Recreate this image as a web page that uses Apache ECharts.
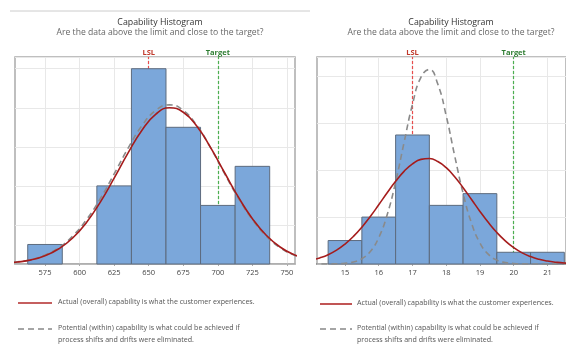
<!DOCTYPE html>
<html><head><meta charset="utf-8">
<script src="https://cdn.jsdelivr.net/npm/echarts@6/dist/echarts.min.js"></script>
<style>html,body{margin:0;padding:0;background:#fff}#c{width:566px;height:346px}</style>
</head><body><div id="c"></div>
<script>
// ---- Left panel data ----
var leftBinStart = [562.5, 612.5, 637.5, 662.5, 687.5, 712.5];
var leftBinEnd   = [587.5, 637.5, 662.5, 687.5, 712.5, 737.5];
var leftCounts   = [1, 4, 10, 7, 3, 5];
var leftTicks    = [575, 600, 625, 650, 675, 700, 725, 750];
var leftCurveX   = [545,555,565,575,585,595,605,615,625,635,645,655,665,675,685,695,705,715,725,735,745,755,765];
var leftOverall  = [0.04,0.10,0.21,0.42,0.78,1.33,2.13,3.17,4.40,5.68,6.84,7.66,8.00,7.77,7.04,5.93,4.66,3.41,2.32,1.47,0.87,0.48,0.25];
var leftWithin   = [0.05,0.11,0.23,0.46,0.84,1.43,2.27,3.35,4.61,5.92,7.07,7.86,8.15,7.86,7.07,5.92,4.61,3.35,2.27,1.43,0.84,0.46,0.23];
var leftLSL = 650, leftTarget = 700;

// ---- Right panel data ----
var rightBinStart = [14.5, 15.5, 16.5, 17.5, 18.5, 19.5, 20.5];
var rightBinEnd   = [15.5, 16.5, 17.5, 18.5, 19.5, 20.5, 21.5];
var rightCounts   = [2, 4, 11, 5, 6, 1, 1];
var rightTicks    = [15, 16, 17, 18, 19, 20, 21];
var rightCurveX   = [14.0,14.25,14.5,14.75,15.0,15.25,15.5,15.75,16.0,16.25,16.5,16.75,17.0,17.25,17.5,17.75,18.0,18.25,18.5,18.75,19.0,19.25,19.5,19.75,20.0,20.25,20.5,20.75,21.0,21.25,21.5,21.75];
var rightOverall  = [0.32,0.52,0.79,1.18,1.70,2.35,3.14,4.05,5.05,6.07,7.05,7.90,8.54,8.92,8.99,8.74,8.21,7.44,6.51,5.50,4.48,3.53,2.68,1.97,1.39,0.95,0.63,0.40,0.25,0.15,0.08,0.05];
var rightWithin   = [0.00,0.00,0.00,0.02,0.06,0.17,0.45,1.07,2.25,4.20,6.99,10.35,13.61,15.92,16.58,15.34,12.63,9.24,6.02,3.48,1.79,0.82,0.33,0.12,0.04,0.01,0.00,0.00,0.00,0.00,0.00,0.00];
var rightLSL = 17, rightTarget = 20;

var legendLine1 = 'Actual (overall) capability is what the customer experiences.';
var legendLine2 = 'Potential (within) capability is what could be achieved if';
var legendLine3 = 'process shifts and drifts were eliminated.';

var FONT = 'Open Sans';
var chart = echarts.init(document.getElementById('c'), null, {renderer: 'canvas'});

function zip(a, b) { return a.map(function (v, i) { return [v, b[i]]; }); }
function bins(s, e, c) { return s.map(function (v, i) { return [v, e[i], c[i]]; }); }

function renderBar(params, api) {
  var p0 = api.coord([api.value(0), api.value(2)]);
  var p1 = api.coord([api.value(1), 0]);
  return {
    type: 'rect',
    shape: {x: p0[0], y: p0[1], width: p1[0] - p0[0], height: p1[1] - p0[1]},
    style: {fill: '#7ba7da', stroke: '#5d6b7e', lineWidth: 1}
  };
}

function specSeries(idx, xval, color, labelColor, name) {
  return {
    type: 'line', xAxisIndex: idx, yAxisIndex: idx, z: 1, symbol: 'none', silent: true,
    data: [],
    markLine: {
      silent: true, symbol: 'none', animation: false, z: 1,
      data: [{xAxis: xval}],
      lineStyle: {color: color, width: 1.2, type: [3, 2]},
      label: {show: true, formatter: name, position: 'end', distance: 0, color: labelColor,
              fontSize: 7.5, fontFamily: FONT, fontWeight: 'bold'}
    }
  };
}

function xAxisCfg(idx, min, max, ticks) {
  return {
    type: 'value', gridIndex: idx, min: min, max: max,
    axisLine: {show: true, onZero: false, lineStyle: {color: '#aaaaaa', width: 1.5}},
    axisTick: {show: true, length: 2, customValues: ticks, lineStyle: {color: '#aaaaaa'}},
    axisLabel: {customValues: ticks, color: '#444', fontSize: 7.5, fontFamily: FONT, margin: 5},
    splitLine: {show: true, lineStyle: {color: '#e8e8e8', width: 1}}
  };
}
function yAxisCfg(idx, max, interval) {
  return {
    type: 'value', gridIndex: idx, min: 0, max: max, interval: interval,
    axisLine: {show: false}, axisTick: {show: false}, axisLabel: {show: false},
    splitLine: {show: true, lineStyle: {color: '#e8e8e8', width: 1}}
  };
}

var LYMAX = 10.6, RYMAX = 17.65;
var titleStyle = {fontSize: 8.8, fontWeight: 'normal', color: '#333', fontFamily: FONT};
var subStyle = {fontSize: 8.6, color: '#666', fontFamily: FONT};
var noteStyle = function (t) { return {text: t, fontSize: 7.1, fill: '#555', fontFamily: FONT}; };

var option = {
  animation: false,
  textStyle: {fontFamily: FONT},
  title: [
    {text: 'Capability Histogram', subtext: 'Are the data above the limit and close to the target?',
     left: 155, top: 13, textAlign: 'center', itemGap: 1, textStyle: titleStyle, subtextStyle: subStyle},
    {text: 'Capability Histogram', subtext: 'Are the data above the limit and close to the target?',
     left: 446, top: 13, textAlign: 'center', itemGap: 1, textStyle: titleStyle, subtextStyle: subStyle}
  ],
  grid: [
    {left: 15, top: 57, width: 280, height: 207, show: true, borderColor: '#aaaaaa', borderWidth: 1.5, backgroundColor: '#fff'},
    {left: 317, top: 57, right: 0, height: 207, show: true, borderColor: '#aaaaaa', borderWidth: 1.5, backgroundColor: '#fff'}
  ],
  xAxis: [
    xAxisCfg(0, 553.3, 755.8, leftTicks),
    xAxisCfg(1, 14.17, 21.55, rightTicks)
  ],
  yAxis: [yAxisCfg(0, LYMAX, 2), yAxisCfg(1, RYMAX, 4)],
  graphic: [
    {type: 'line', shape: {x1: 10, y1: 11, x2: 310, y2: 11}, style: {stroke: '#cccccc', lineWidth: 1}},
    {type: 'line', shape: {x1: 18, y1: 303, x2: 52, y2: 303}, style: {stroke: '#b22a2a', lineWidth: 1.6}},
    {type: 'text', left: 58, top: 298, style: noteStyle(legendLine1)},
    {type: 'line', shape: {x1: 18, y1: 329, x2: 52, y2: 329}, style: {stroke: '#888888', lineWidth: 1.4, lineDash: [6, 4]}},
    {type: 'text', left: 58, top: 324, style: noteStyle(legendLine2)},
    {type: 'text', left: 58, top: 336, style: noteStyle(legendLine3)},
    {type: 'line', shape: {x1: 320, y1: 304, x2: 352, y2: 304}, style: {stroke: '#b22a2a', lineWidth: 1.6}},
    {type: 'text', left: 357, top: 299, style: noteStyle(legendLine1)},
    {type: 'line', shape: {x1: 320, y1: 329, x2: 352, y2: 329}, style: {stroke: '#888888', lineWidth: 1.4, lineDash: [6, 4]}},
    {type: 'text', left: 357, top: 324, style: noteStyle(legendLine2)},
    {type: 'text', left: 357, top: 336, style: noteStyle(legendLine3)}
  ],
  series: [
    specSeries(0, leftLSL, '#e84c4c', '#c0392b', 'LSL'),
    specSeries(0, leftTarget, '#4cb050', '#2e7d32', 'Target'),
    specSeries(1, rightLSL, '#e84c4c', '#c0392b', 'LSL'),
    specSeries(1, rightTarget, '#4cb050', '#2e7d32', 'Target'),
    {type: 'custom', xAxisIndex: 0, yAxisIndex: 0, z: 2, renderItem: renderBar,
     encode: {x: [0, 1], y: 2}, data: bins(leftBinStart, leftBinEnd, leftCounts)},
    {type: 'custom', xAxisIndex: 1, yAxisIndex: 1, z: 2, renderItem: renderBar,
     encode: {x: [0, 1], y: 2}, data: bins(rightBinStart, rightBinEnd, rightCounts)},
    {type: 'line', xAxisIndex: 0, yAxisIndex: 0, z: 3, symbol: 'none', smooth: true,
     data: zip(leftCurveX, leftWithin), lineStyle: {color: '#8a8a8a', width: 1.6, type: [6, 4]}},
    {type: 'line', xAxisIndex: 0, yAxisIndex: 0, z: 4, symbol: 'none', smooth: true,
     data: zip(leftCurveX, leftOverall), lineStyle: {color: '#a51c1c', width: 1.6}},
    {type: 'line', xAxisIndex: 1, yAxisIndex: 1, z: 3, symbol: 'none', smooth: true,
     data: zip(rightCurveX, rightWithin), lineStyle: {color: '#8a8a8a', width: 1.6, type: [6, 4]}},
    {type: 'line', xAxisIndex: 1, yAxisIndex: 1, z: 4, symbol: 'none', smooth: true,
     data: zip(rightCurveX, rightOverall), lineStyle: {color: '#a51c1c', width: 1.6}}
  ]
};
chart.setOption(option);
</script></body></html>
